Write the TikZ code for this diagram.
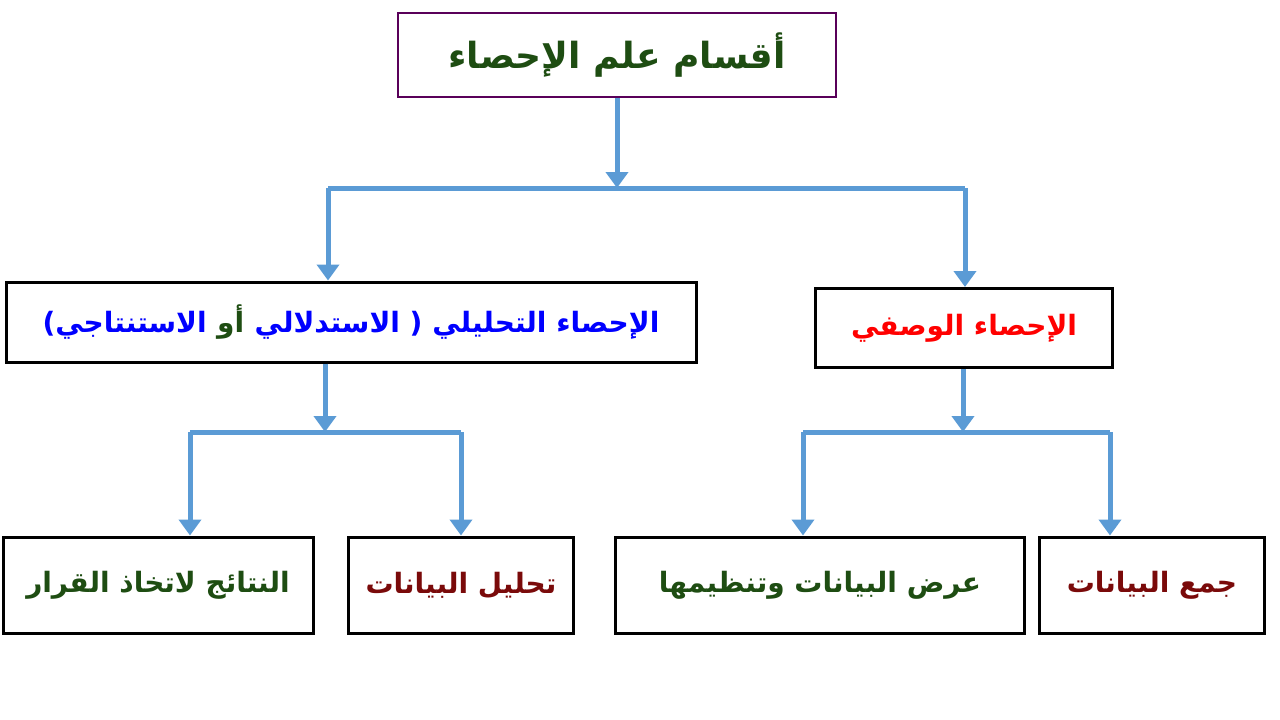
\documentclass[tikz,border=0pt]{standalone}
\usepackage{fontspec}
\usetikzlibrary{arrows.meta}
\newfontfamily\ar[Script=Arabic]{DejaVu Sans}
\TeXXeTstate=1
\newcommand{\AR}[1]{{\ar\beginR #1\endR}}
\definecolor{arr}{HTML}{5B9BD5}
\definecolor{dg}{HTML}{1E4D12}
\definecolor{dr}{HTML}{7A0A0A}
\begin{document}
\begin{tikzpicture}[x=1pt,y=-1pt,
  box/.style={draw=black,line width=3pt,fill=white,font=\bfseries\fontsize{28}{32}\selectfont},
  con/.style={draw=arr,line width=5pt},
  arw/.style={con,-{Triangle[length=16pt,width=22pt]}}]
\useasboundingbox (0,0) rectangle (1280,720);
\node[box,draw=violet!70!black,line width=2.5pt,minimum width=438pt,minimum height=84pt,text=dg,font=\bfseries\fontsize{36}{40}\selectfont] (top) at (617,55) {\AR{أقسام علم الإحصاء}};
\node[box,minimum width=690pt,minimum height=80pt,text=blue] (ana) at (351,322) {\AR{الاستنتاجي)} {\color{dg}\AR{أو}} \AR{الإحصاء التحليلي ( الاستدلالي}};
\node[box,minimum width=297pt,minimum height=79pt,text=red] (des) at (964,328) {\AR{الإحصاء الوصفي}};
\node[box,minimum width=310pt,minimum height=96pt,text=dg] (b1) at (158,585) {\AR{النتائج لاتخاذ القرار}};
\node[box,minimum width=225pt,minimum height=96pt,text=dr] (b2) at (461,585) {\AR{تحليل البيانات}};
\node[box,minimum width=409pt,minimum height=96pt,text=dg] (b3) at (820,585) {\AR{عرض البيانات وتنظيمها}};
\node[box,minimum width=225pt,minimum height=96pt,text=dr] (b4) at (1152,585) {\AR{جمع البيانات}};
\coordinate (j1) at (617,188);
\coordinate (j2) at (325,432);
\coordinate (j3) at (963,432);
\draw[arw] (top.south) -- (j1);
\draw[con] (328,188) -- (965,188);
\draw[arw] (328,188) -- (ana.north -| 328,0);
\draw[arw] (965,188) -- (des.north -| 965,0);
\draw[arw] (ana.south -| j2) -- (j2);
\draw[con] (190,432) -- (461,432);
\draw[arw] (190,432) -- (b1.north -| 190,0);
\draw[arw] (461,432) -- (b2.north -| 461,0);
\draw[arw] (des.south -| j3) -- (j3);
\draw[con] (803,432) -- (1110,432);
\draw[arw] (803,432) -- (b3.north -| 803,0);
\draw[arw] (1110,432) -- (b4.north -| 1110,0);
\end{tikzpicture}
\end{document}
